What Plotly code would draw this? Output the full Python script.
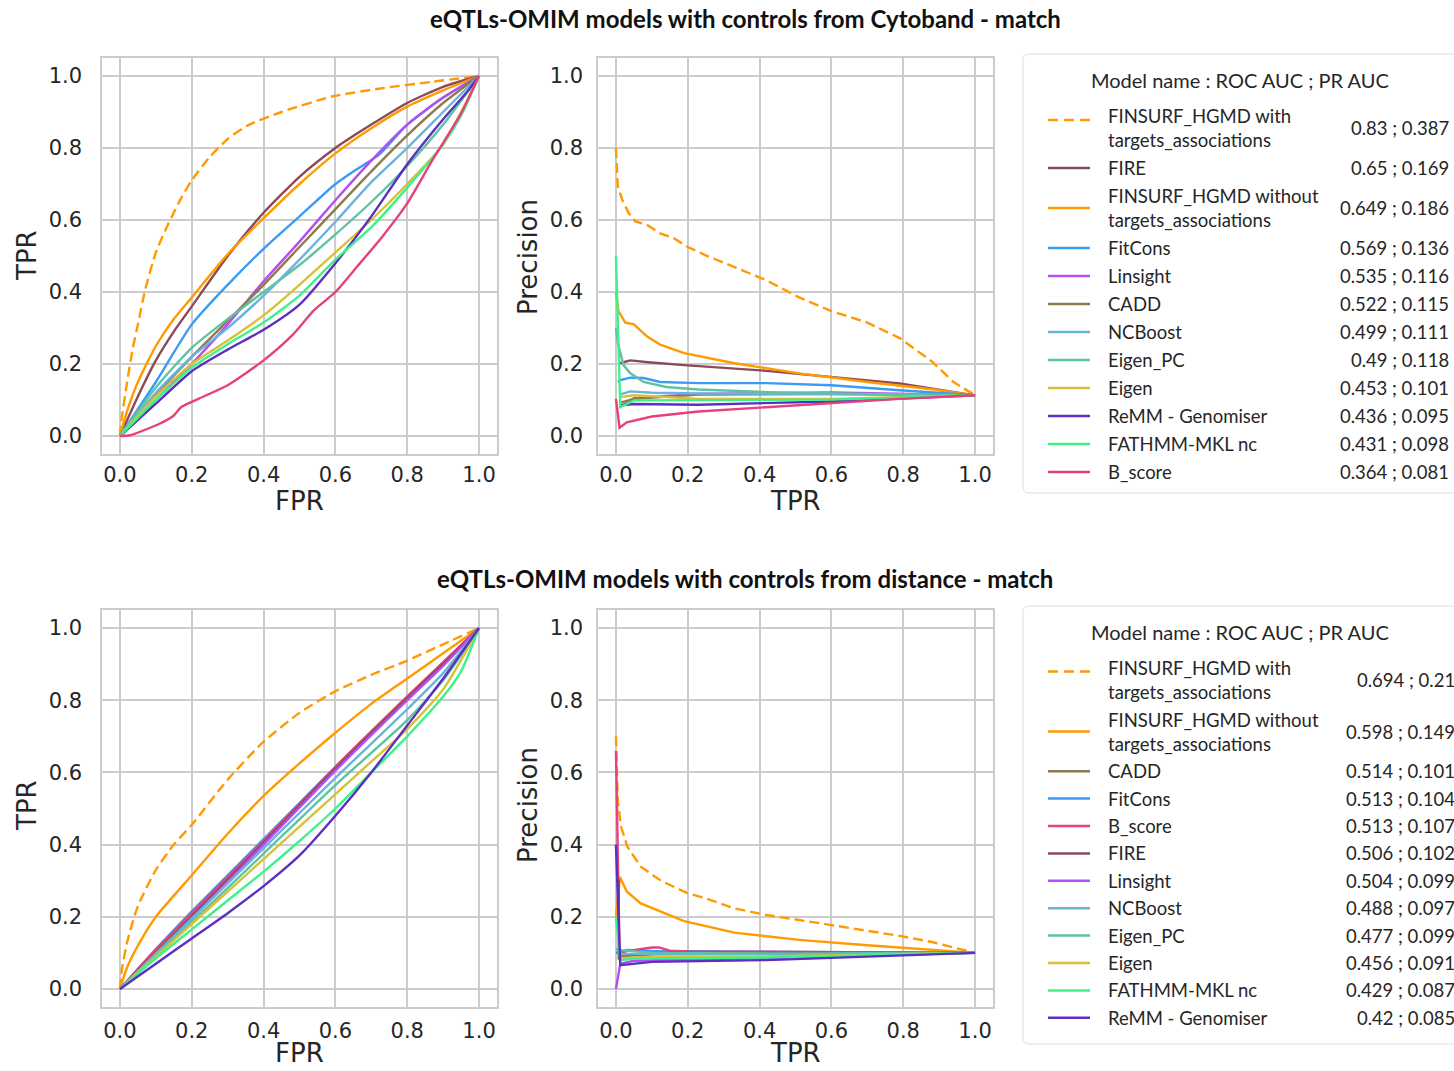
import plotly.graph_objects as go

# ---------------------------------------------------------------- data
MODELS_CYTO = [
    "FINSURF_HGMD with targets_associations", "FIRE",
    "FINSURF_HGMD without targets_associations", "FitCons", "Linsight", "CADD",
    "NCBoost", "Eigen_PC", "Eigen", "ReMM - Genomiser", "FATHMM-MKL nc", "B_score",
]
ROC_AUC_CYTO = [0.83, 0.65, 0.649, 0.569, 0.535, 0.522, 0.499, 0.49, 0.453, 0.436, 0.431, 0.364]
PR_AUC_CYTO = [0.387, 0.169, 0.186, 0.136, 0.116, 0.115, 0.111, 0.118, 0.101, 0.095, 0.098, 0.081]

MODELS_DIST = [
    "FINSURF_HGMD with targets_associations",
    "FINSURF_HGMD without targets_associations", "CADD", "FitCons", "B_score",
    "FIRE", "Linsight", "NCBoost", "Eigen_PC", "Eigen", "FATHMM-MKL nc", "ReMM - Genomiser",
]
ROC_AUC_DIST = [0.694, 0.598, 0.514, 0.513, 0.513, 0.506, 0.504, 0.488, 0.477, 0.456, 0.429, 0.42]
PR_AUC_DIST = [0.21, 0.149, 0.101, 0.104, 0.107, 0.102, 0.099, 0.097, 0.099, 0.091, 0.087, 0.085]

COLORS = {
    "FINSURF_HGMD with targets_associations": "#ff9a00",
    "FINSURF_HGMD without targets_associations": "#ff9a00",
    "FIRE": "#8b4a55",
    "FitCons": "#3a9cf2",
    "Linsight": "#b54cf5",
    "CADD": "#8e7b4b",
    "NCBoost": "#6ab3df",
    "Eigen_PC": "#5ec3a3",
    "Eigen": "#d6c236",
    "ReMM - Genomiser": "#5b2fbf",
    "FATHMM-MKL nc": "#3ef28a",
    "B_score": "#e6417d",
}
DASHED_MODEL = "FINSURF_HGMD with targets_associations"

# ROC curves, controls from cytoband: (FPR, TPR)
ROC_CYTO = {
    "FINSURF_HGMD with targets_associations": (
        [0, 0.005, 0.02, 0.035, 0.05, 0.07, 0.1, 0.135, 0.17, 0.2, 0.25, 0.3, 0.36, 0.45, 0.59, 0.73, 0.87, 1],
        [0, 0.05, 0.15, 0.24, 0.31, 0.405, 0.51, 0.59, 0.66, 0.71, 0.775, 0.825, 0.865, 0.9, 0.943, 0.966, 0.984, 1]),
    "FIRE": (
        [0, 0.05, 0.1, 0.15, 0.2, 0.3, 0.4, 0.5, 0.6, 0.7, 0.8, 0.9, 1],
        [0, 0.11, 0.21, 0.29, 0.36, 0.5, 0.62, 0.72, 0.8, 0.865, 0.925, 0.97, 1]),
    "FINSURF_HGMD without targets_associations": (
        [0, 0.02, 0.05, 0.1, 0.15, 0.2, 0.3, 0.4, 0.5, 0.6, 0.7, 0.8, 0.9, 1],
        [0, 0.07, 0.15, 0.25, 0.325, 0.385, 0.505, 0.605, 0.7, 0.785, 0.855, 0.915, 0.96, 1]),
    "FitCons": (
        [0, 0.1, 0.2, 0.3, 0.4, 0.5, 0.6, 0.65, 0.72, 0.8, 0.9, 1],
        [0, 0.15, 0.31, 0.42, 0.52, 0.61, 0.7, 0.735, 0.78, 0.865, 0.94, 1]),
    "Linsight": (
        [0, 0.1, 0.2, 0.3, 0.4, 0.5, 0.6, 0.7, 0.8, 0.9, 1],
        [0, 0.1, 0.2, 0.31, 0.43, 0.54, 0.655, 0.765, 0.865, 0.94, 1]),
    "CADD": (
        [0, 0.1, 0.2, 0.3, 0.4, 0.5, 0.6, 0.7, 0.8, 0.9, 1],
        [0, 0.115, 0.22, 0.32, 0.42, 0.525, 0.63, 0.735, 0.835, 0.925, 1]),
    "NCBoost": (
        [0, 0.1, 0.2, 0.3, 0.4, 0.5, 0.6, 0.7, 0.8, 0.9, 1],
        [0, 0.12, 0.22, 0.3, 0.39, 0.49, 0.595, 0.705, 0.8, 0.9, 1]),
    "Eigen_PC": (
        [0, 0.1, 0.2, 0.3, 0.4, 0.5, 0.6, 0.7, 0.8, 0.9, 1],
        [0, 0.135, 0.245, 0.325, 0.4, 0.475, 0.56, 0.65, 0.75, 0.865, 1]),
    "Eigen": (
        [0, 0.1, 0.2, 0.3, 0.4, 0.5, 0.6, 0.7, 0.8, 0.9, 1],
        [0, 0.11, 0.2, 0.265, 0.335, 0.42, 0.51, 0.6, 0.7, 0.81, 1]),
    "ReMM - Genomiser": (
        [0, 0.1, 0.2, 0.3, 0.4, 0.5, 0.6, 0.7, 0.8, 0.9, 0.97, 1],
        [0, 0.09, 0.18, 0.24, 0.295, 0.365, 0.48, 0.61, 0.755, 0.88, 0.96, 1]),
    "FATHMM-MKL nc": (
        [0, 0.1, 0.2, 0.3, 0.4, 0.5, 0.6, 0.7, 0.8, 0.9, 0.95, 1],
        [0, 0.1, 0.19, 0.255, 0.315, 0.39, 0.49, 0.58, 0.69, 0.81, 0.89, 1]),
    "B_score": (
        [0, 0.028, 0.11, 0.15, 0.17, 0.22, 0.3, 0.4, 0.48, 0.54, 0.6, 0.66, 0.73, 0.8, 0.87, 0.95, 1],
        [0, 0.002, 0.034, 0.057, 0.08, 0.104, 0.141, 0.21, 0.28, 0.349, 0.4, 0.47, 0.553, 0.646, 0.766, 0.896, 1]),
}

# Precision / recall curves, controls from cytoband: (TPR, precision)
PR_CYTO = {
    "FINSURF_HGMD with targets_associations": (
        [0, 0.005, 0.017, 0.035, 0.054, 0.086, 0.123, 0.16, 0.2, 0.25, 0.33, 0.42, 0.51, 0.6, 0.7, 0.79, 0.88, 0.94, 1],
        [0.8, 0.695, 0.657, 0.62, 0.596, 0.587, 0.563, 0.55, 0.525, 0.502, 0.469, 0.432, 0.385, 0.347, 0.315, 0.272, 0.207, 0.15, 0.113]),
    "FIRE": (
        [0.01, 0.04, 0.09, 0.19, 0.42, 0.6, 0.79, 1],
        [0.202, 0.21, 0.205, 0.197, 0.181, 0.164, 0.146, 0.113]),
    "FINSURF_HGMD without targets_associations": (
        [0, 0.007, 0.026, 0.05, 0.086, 0.123, 0.19, 0.33, 0.51, 0.7, 0.88, 1],
        [0.4, 0.347, 0.315, 0.31, 0.277, 0.254, 0.23, 0.202, 0.174, 0.15, 0.13, 0.113]),
    "FitCons": (
        [0.005, 0.012, 0.04, 0.077, 0.123, 0.23, 0.42, 0.6, 0.79, 1],
        [0.15, 0.155, 0.162, 0.161, 0.15, 0.147, 0.147, 0.141, 0.127, 0.113]),
    "Linsight": (
        [0.01, 0.05, 0.23, 0.6, 1],
        [0.08, 0.105, 0.117, 0.121, 0.113]),
    "CADD": (
        [0.01, 0.05, 0.23, 0.6, 1],
        [0.092, 0.103, 0.115, 0.117, 0.113]),
    "NCBoost": (
        [0.01, 0.04, 0.1, 0.23, 0.6, 1],
        [0.115, 0.124, 0.12, 0.118, 0.116, 0.113]),
    "Eigen_PC": (
        [0, 0.005, 0.021, 0.04, 0.077, 0.14, 0.23, 0.42, 0.7, 1],
        [0.3, 0.26, 0.197, 0.174, 0.15, 0.136, 0.129, 0.122, 0.117, 0.113]),
    "Eigen": (
        [0.01, 0.05, 0.23, 0.6, 1],
        [0.108, 0.113, 0.103, 0.103, 0.113]),
    "ReMM - Genomiser": (
        [0.01, 0.05, 0.23, 0.6, 1],
        [0.085, 0.089, 0.087, 0.096, 0.113]),
    "FATHMM-MKL nc": (
        [0, 0.012, 0.05, 0.23, 0.6, 1],
        [0.5, 0.08, 0.099, 0.099, 0.101, 0.113]),
    "B_score": (
        [0, 0.01, 0.03, 0.1, 0.23, 0.51, 0.79, 1],
        [0.103, 0.023, 0.038, 0.054, 0.068, 0.086, 0.103, 0.113]),
}

# ROC curves, controls from distance: (FPR, TPR)
ROC_DIST = {
    "FINSURF_HGMD with targets_associations": (
        [0, 0.005, 0.02, 0.05, 0.1, 0.15, 0.2, 0.3, 0.4, 0.5, 0.6, 0.7, 0.8, 0.9, 1],
        [0, 0.05, 0.13, 0.23, 0.33, 0.4, 0.455, 0.58, 0.685, 0.765, 0.825, 0.87, 0.91, 0.955, 1]),
    "FINSURF_HGMD without targets_associations": (
        [0, 0.02, 0.05, 0.1, 0.2, 0.3, 0.4, 0.5, 0.6, 0.7, 0.8, 0.9, 1],
        [0, 0.06, 0.12, 0.2, 0.315, 0.43, 0.535, 0.625, 0.71, 0.79, 0.86, 0.93, 1]),
    "CADD": ([0, 0.2, 0.4, 0.6, 0.8, 0.9, 1], [0, 0.205, 0.41, 0.615, 0.81, 0.905, 1]),
    "FitCons": ([0, 0.1, 0.2, 0.4, 0.6, 0.8, 0.9, 1], [0, 0.11, 0.215, 0.415, 0.615, 0.805, 0.9, 1]),
    "B_score": ([0, 0.1, 0.2, 0.4, 0.6, 0.8, 0.9, 1], [0, 0.11, 0.21, 0.41, 0.615, 0.81, 0.905, 1]),
    "FIRE": ([0, 0.2, 0.4, 0.6, 0.8, 0.9, 1], [0, 0.2, 0.405, 0.61, 0.805, 0.9, 1]),
    "Linsight": ([0, 0.2, 0.4, 0.6, 0.8, 0.9, 1], [0, 0.195, 0.4, 0.605, 0.8, 0.895, 1]),
    "NCBoost": ([0, 0.2, 0.4, 0.6, 0.8, 0.9, 1], [0, 0.195, 0.39, 0.585, 0.775, 0.875, 1]),
    "Eigen_PC": ([0, 0.2, 0.4, 0.6, 0.8, 0.9, 1], [0, 0.185, 0.375, 0.565, 0.745, 0.855, 1]),
    "Eigen": (
        [0, 0.1, 0.2, 0.3, 0.4, 0.5, 0.6, 0.7, 0.8, 0.9, 1],
        [0, 0.09, 0.18, 0.27, 0.36, 0.45, 0.54, 0.63, 0.72, 0.83, 1]),
    "FATHMM-MKL nc": (
        [0, 0.1, 0.2, 0.3, 0.4, 0.5, 0.6, 0.7, 0.8, 0.9, 0.95, 1],
        [0, 0.085, 0.165, 0.245, 0.325, 0.41, 0.5, 0.6, 0.7, 0.81, 0.88, 1]),
    "ReMM - Genomiser": (
        [0, 0.1, 0.2, 0.3, 0.4, 0.5, 0.6, 0.7, 0.8, 0.9, 1],
        [0, 0.07, 0.14, 0.21, 0.285, 0.37, 0.48, 0.6, 0.73, 0.86, 1]),
}

# Precision / recall curves, controls from distance: (TPR, precision)
PR_DIST = {
    "FINSURF_HGMD with targets_associations": (
        [0, 0.005, 0.014, 0.032, 0.069, 0.125, 0.2, 0.25, 0.33, 0.42, 0.6, 0.79, 0.88, 1],
        [0.7, 0.524, 0.45, 0.394, 0.339, 0.3, 0.265, 0.251, 0.223, 0.205, 0.177, 0.147, 0.13, 0.1]),
    "FINSURF_HGMD without targets_associations": (
        [0, 0.011, 0.03, 0.069, 0.125, 0.19, 0.33, 0.51, 0.7, 0.88, 1],
        [0.2, 0.31, 0.27, 0.237, 0.214, 0.188, 0.156, 0.136, 0.121, 0.108, 0.1]),
    "CADD": ([0.005, 0.012, 0.05, 0.4, 1], [0.1, 0.092, 0.096, 0.098, 0.1]),
    "FitCons": ([0, 0.03, 0.1, 0.4, 1], [0.1, 0.108, 0.105, 0.103, 0.1]),
    "B_score": (
        [0, 0.01, 0.03, 0.06, 0.1, 0.12, 0.15, 0.2, 0.5, 1],
        [0.66, 0.1, 0.105, 0.11, 0.115, 0.115, 0.106, 0.104, 0.103, 0.1]),
    "FIRE": ([0, 0.008, 0.008, 0.05, 0.15, 1], [0.3, 0.3, 0.085, 0.093, 0.1, 0.1]),
    "Linsight": ([0, 0.012, 0.05, 0.4, 1], [0.0, 0.07, 0.078, 0.085, 0.1]),
    "NCBoost": ([0.005, 0.02, 0.4, 1], [0.1, 0.097, 0.097, 0.1]),
    "Eigen_PC": ([0, 0.02, 0.1, 0.5, 1], [0.11, 0.107, 0.1, 0.098, 0.1]),
    "Eigen": ([0.005, 0.012, 0.05, 0.4, 1], [0.15, 0.085, 0.088, 0.09, 0.1]),
    "FATHMM-MKL nc": ([0, 0.012, 0.05, 0.4, 1], [0.2, 0.08, 0.084, 0.087, 0.1]),
    "ReMM - Genomiser": ([0, 0.012, 0.1, 0.42, 1], [0.4, 0.066, 0.075, 0.08, 0.1]),
}

TITLE_CYTO = "eQTLs-OMIM models with controls from Cytoband - match"
TITLE_DIST = "eQTLs-OMIM models with controls from distance - match"
LEGEND_TITLE = "Model name : ROC AUC ; PR AUC"
TICKS = [0, 0.2, 0.4, 0.6, 0.8, 1.0]

# ---------------------------------------------------------------- layout helpers
W, H = 1454, 1071
GRID = "#cccccc"
TEXT = "#262626"
TICK_FONT = dict(family="DejaVu Sans", size=21, color=TEXT)
AXTITLE_FONT = dict(family="DejaVu Sans", size=26, color=TEXT)
LEG_FONT = dict(family="Lato", size=18.5, color=TEXT)


def px(x):
    return x / W


def py(y):
    return 1 - y / H


def axis(lo, hi, vertical, label_gap):
    dom = [py(hi), py(lo)] if vertical else [px(lo), px(hi)]
    return dict(
        domain=dom, range=[-0.05, 1.05], tickvals=TICKS,
        ticktext=[f"{t:.1f}" for t in TICKS], tickfont=TICK_FONT,
        ticks="", ticklabelstandoff=label_gap,
        showline=True, mirror=True, linecolor=GRID, linewidth=1.5,
        showgrid=True, gridcolor=GRID, gridwidth=1.5, zeroline=False,
        fixedrange=True,
    )


fig = go.Figure()

panels = [
    # (curves, models, axis suffix, smooth)
    (ROC_CYTO, MODELS_CYTO, "", True),
    (PR_CYTO, MODELS_CYTO, "2", False),
    (ROC_DIST, MODELS_DIST, "3", True),
    (PR_DIST, MODELS_DIST, "4", False),
]
for curves, models, suf, smooth in panels:
    for name in models:
        xs, ys = curves[name]
        line = dict(color=COLORS[name], width=2.4,
                    dash="10px,5px" if name == DASHED_MODEL else "solid")
        if smooth:
            line.update(shape="spline", smoothing=0.6)
        fig.add_trace(go.Scatter(
            x=xs, y=ys, mode="lines", name=name, showlegend=False,
            xaxis="x" + suf, yaxis="y" + suf, line=line, hoverinfo="skip",
        ))

LEFT = (102, 497)
RIGHT = (598, 993)
TOP = (58, 454)
BOTTOM = (610, 1007)

fig.update_layout(
    xaxis=axis(*LEFT, False, 1),
    yaxis=axis(*TOP, True, 14),
    xaxis2=axis(*RIGHT, False, 1),
    yaxis2=axis(*TOP, True, 9),
    xaxis3=axis(*LEFT, False, 4),
    yaxis3=axis(*BOTTOM, True, 14),
    xaxis4=axis(*RIGHT, False, 4),
    yaxis4=axis(*BOTTOM, True, 9),
)
for i in ["", "2", "3", "4"]:
    fig.layout["xaxis" + i].anchor = "y" + i
    fig.layout["yaxis" + i].anchor = "x" + i

annotations = []
shapes = []

# axis titles: (text, x, y, rotation)
AXIS_TITLES = [
    ("FPR", 299.5, 501, 0), ("TPR", 795, 501, 0),
    ("TPR", 27, 256, -90), ("Precision", 528, 257, -90),
    ("FPR", 299.5, 1053, 0), ("TPR", 795, 1053, 0),
    ("TPR", 27, 806, -90), ("Precision", 528, 805, -90),
]
for text, x, y, rot in AXIS_TITLES:
    annotations.append(dict(
        text=text, x=px(x), y=py(y), xref="paper", yref="paper",
        xanchor="center", yanchor="middle", textangle=rot, showarrow=False,
        font=AXTITLE_FONT))


def rounded_box(x0, y0, x1, y1, r):
    pts = [
        ("M", x0 + r, y0), ("L", x1 - r, y0), ("Q", x1, y0, x1, y0 + r),
        ("L", x1, y1 - r), ("Q", x1, y1, x1 - r, y1), ("L", x0 + r, y1),
        ("Q", x0, y1, x0, y1 - r), ("L", x0, y0 + r), ("Q", x0, y0, x0 + r, y0),
    ]
    parts = []
    for p in pts:
        cmd, coords = p[0], p[1:]
        xy = []
        for k in range(0, len(coords), 2):
            xy.append(f"{px(coords[k]):.5f},{py(coords[k + 1]):.5f}")
        parts.append(cmd + " " + " ".join(xy))
    return " ".join(parts) + " Z"


def legend_block(models, roc_auc, pr_auc, box_top, box_bottom, first_center,
                 row_single, row_double, value_right):
    shapes.append(dict(type="path", xref="paper", yref="paper",
                       path=rounded_box(1023, box_top, 1475, box_bottom, 6),
                       line=dict(color="#dedede", width=1), fillcolor="white",
                       layer="below"))
    annotations.append(dict(
        text=LEGEND_TITLE, x=px(1240), y=py(box_top + 26), xref="paper", yref="paper",
        xanchor="center", yanchor="middle", showarrow=False,
        font=dict(family="Lato", size=20, color=TEXT)))
    top = first_center - row_double / 2
    for name, ra, pa in zip(models, roc_auc, pr_auc):
        double = "targets_associations" in name
        h = row_double if double else row_single
        cy = top + h / 2
        top += h
        label = name.replace(" targets_associations", "<br>targets_associations")
        # the dashed handle sits a little above its two-line label
        line_y = cy - 8 if name == DASHED_MODEL else cy
        shapes.append(dict(
            type="line", xref="paper", yref="paper",
            x0=px(1048), x1=px(1090), y0=py(line_y), y1=py(line_y),
            line=dict(color=COLORS[name], width=2.5,
                      dash="10px,6px" if name == DASHED_MODEL else "solid")))
        annotations.append(dict(
            text=label, x=px(1106), y=py(cy), xref="paper", yref="paper",
            xanchor="left", yanchor="middle", align="left", showarrow=False,
            font=LEG_FONT))
        annotations.append(dict(
            text=f"{ra} ; {pa}", x=px(value_right), y=py(cy), xref="paper",
            yref="paper", xanchor="right", yanchor="middle", showarrow=False,
            font=LEG_FONT))


legend_block(MODELS_CYTO, ROC_AUC_CYTO, PR_AUC_CYTO, 54, 493, 128, 28, 52, 1451)
legend_block(MODELS_DIST, ROC_AUC_DIST, PR_AUC_DIST, 606, 1044, 679.5, 27.4, 52, 1457)

for text, y in [(TITLE_CYTO, 18), (TITLE_DIST, 578)]:
    annotations.append(dict(
        text=f"<b>{text}</b>", x=px(745), y=py(y), xref="paper", yref="paper",
        xanchor="center", yanchor="middle", showarrow=False,
        font=dict(family="Lato", size=24, color="#111111")))

fig.update_layout(
    width=W, height=H, margin=dict(l=0, r=0, t=0, b=0),
    paper_bgcolor="white", plot_bgcolor="white",
    annotations=annotations, shapes=shapes, showlegend=False,
)

fig.write_html("out.html", config={"displayModeBar": False})
